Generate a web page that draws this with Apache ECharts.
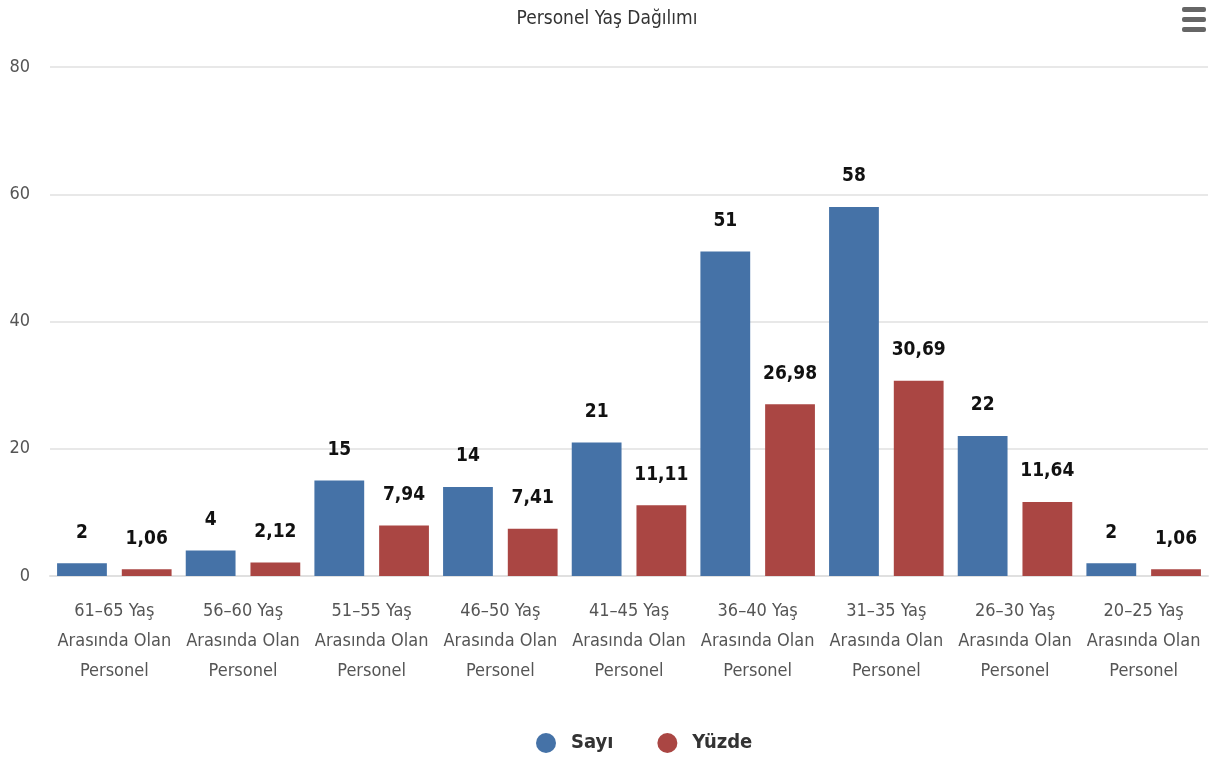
<!DOCTYPE html>
<html><head><meta charset="utf-8">
<script src="https://cdn.jsdelivr.net/npm/echarts@6/dist/echarts.min.js"></script>
<style>html,body{margin:0;padding:0;background:#fff}#c{width:1214px;height:764px}</style>
</head><body><div id="c"></div>
<script>
const categories = ["61–65 Yaş Arasında Olan Personel","56–60 Yaş Arasında Olan Personel","51–55 Yaş Arasında Olan Personel","46–50 Yaş Arasında Olan Personel","41–45 Yaş Arasında Olan Personel","36–40 Yaş Arasında Olan Personel","31–35 Yaş Arasında Olan Personel","26–30 Yaş Arasında Olan Personel","20–25 Yaş Arasında Olan Personel"];
const sayi = [2,4,15,14,21,51,58,22,2];
const yuzde = [1.06,2.12,7.94,7.41,11.11,26.98,30.69,11.64,1.06];
const yTicks = [0,20,40,60,80];
const FONT = "'Liberation Sans Narrow','DejaVu Sans Condensed','Roboto Condensed',sans-serif";
const chart = echarts.init(document.getElementById('c'));
const wrap = s => { const p = s.split(' '); return p[0]+' '+p[1]+'\n'+p[2]+' '+p[3]+'\n'+p[4]; };
chart.setOption({
  animation:false,
  textStyle:{fontFamily:FONT},
  title:{text:'Personel Yaş Dağılımı',left:'center',top:5,textStyle:{fontFamily:FONT,fontSize:19,fontWeight:'normal',color:'#333'}},
  legend:{bottom:6,left:531,itemGap:44,icon:'circle',itemWidth:20,itemHeight:24,
    textStyle:{fontFamily:FONT,fontSize:20,fontWeight:'bold',color:'#333',padding:[0,0,0,10]},data:['Sayı','Yüzde']},
  grid:{left:50,right:6,top:67,bottom:188,containLabel:false},
  xAxis:{type:'category',data:categories,
    axisLine:{lineStyle:{color:'#e0e0e0',width:2}},axisTick:{show:false},
    axisLabel:{interval:0,formatter:wrap,fontFamily:FONT,fontSize:18,color:'#555',lineHeight:30,margin:20}},
  yAxis:{type:'value',min:yTicks[0],max:yTicks[yTicks.length-1],interval:20,
    axisLabel:{fontFamily:FONT,fontSize:18,color:'#555',margin:20},
    splitLine:{lineStyle:{color:'#e8e8e8',width:2}},axisLine:{show:false},axisTick:{show:false}},
  series:[
    {name:'Sayı',type:'bar',data:sayi,barGap:'30%',barCategoryGap:'11%',itemStyle:{color:'#4572A7'},
     label:{show:true,position:'top',distance:21,fontFamily:FONT,fontSize:19,fontWeight:'bold',color:'#111'}},
    {name:'Yüzde',type:'bar',data:yuzde,itemStyle:{color:'#AA4643'},
     label:{show:true,position:'top',distance:21,fontFamily:FONT,fontSize:19,fontWeight:'bold',color:'#111',
       formatter:p=>p.value.toFixed(2).replace('.',',')}}
  ],
  graphic:[
    {type:'rect',right:8,top:7,shape:{width:24,height:5,r:2},style:{fill:'#666'}},
    {type:'rect',right:8,top:17,shape:{width:24,height:5,r:2},style:{fill:'#666'}},
    {type:'rect',right:8,top:27,shape:{width:24,height:5,r:2},style:{fill:'#666'}}
  ]
});
</script></body></html>
